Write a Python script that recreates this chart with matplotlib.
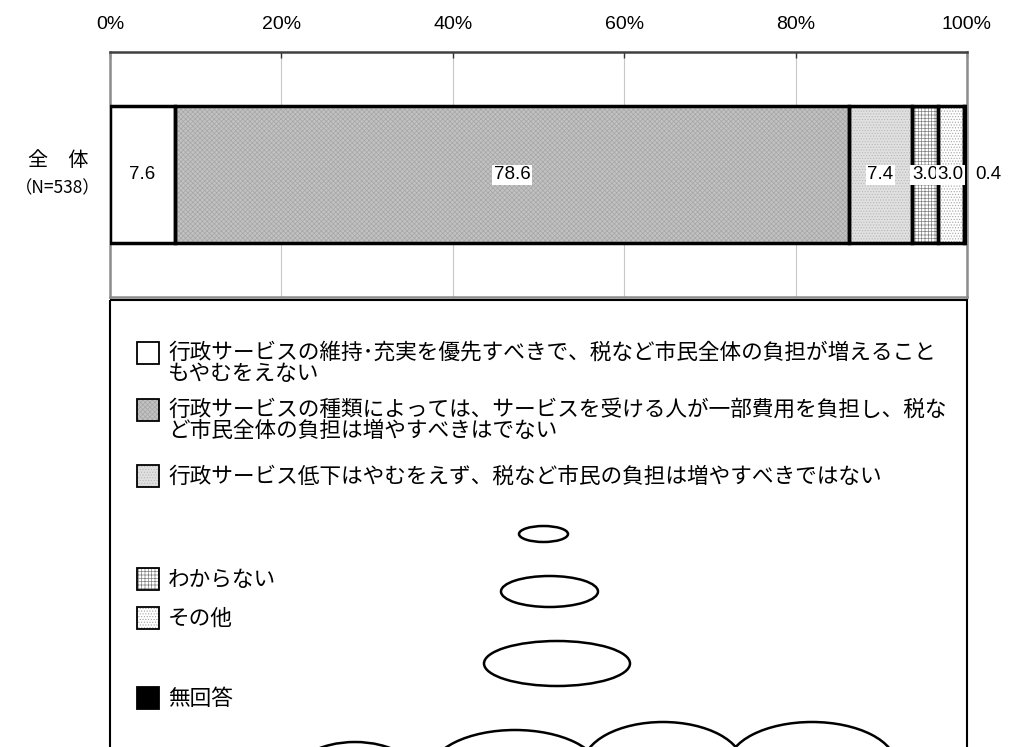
import matplotlib
matplotlib.use("Agg")
import matplotlib.pyplot as plt
from matplotlib.patches import Rectangle, Ellipse

plt.rcParams['font.family'] = ['Noto Sans CJK JP', 'DejaVu Sans']
plt.rcParams['hatch.linewidth'] = 0.5

# ---- data ----
categories = ["全\u3000体", "（N=538）"]
values = [7.6, 78.6, 7.4, 3.0, 3.0, 0.4]
value_labels = ["7.6", "78.6", "7.4", "3.0", "3.0", "0.4"]
legend_labels = [
    "行政サービスの維持\uff65充実を優先すべきで、税など市民全体の負担が増えること\nもやむをえない",
    "行政サービスの種類によっては、サービスを受ける人が一部費用を負担し、税な\nど市民全体の負担は増やすべきはでない",
    "行政サービス低下はやむをえず、税など市民の負担は増やすべきではない",
    "わからない",
    "その他",
    "無回答",
]
tick_values = [0, 20, 40, 60, 80, 100]
tick_labels = ["0%", "20%", "40%", "60%", "80%", "100%"]

# styles: (face, hatch, hatchcolor)
styles = [
    ("white", None, "white"),
    ("#c2c2c2", "xxxxxxx", "#a6a6a6"),
    ("#e0e0e0", "......", "#b8b8b8"),
    ("white", "+++++", "#808080"),
    ("white", "......", "#a4a4a4"),
    ("black", None, "black"),
]

W, H = 1009, 747
fig = plt.figure(figsize=(W / 100, H / 100), dpi=100)

ax = fig.add_axes([110 / W, 1 - 297 / H, 857 / W, 245 / H])
ax.set_xlim(0, 100)
ax.set_ylim(-0.5, 0.5)

num_font = ["Liberation Sans", "DejaVu Sans"]

left = 0
for v, (fc, hatch, hc) in zip(values, styles):
    ax.barh(0, v, left=left, height=0.56, color=fc, hatch=hatch,
            edgecolor=hc, linewidth=0, zorder=2)
    ax.barh(0, v, left=left, height=0.56, fill=False, edgecolor="black",
            linewidth=2.5, zorder=3)
    left += v

left = 0
for i, (v, lab) in enumerate(zip(values, value_labels)):
    c = left + v / 2
    if i == len(values) - 1:
        ax.text(101.0, 0.0, lab, ha="left", va="center", fontsize=13.5,
                family=num_font, zorder=5, clip_on=False)
    else:
        ax.text(c, 0.0, lab, ha="center", va="center", fontsize=13.5,
                family=num_font, zorder=5,
                bbox=dict(boxstyle="square,pad=0.08", fc="white", ec="none"))
    left += v

ax.set_xticks(tick_values)
ax.set_xticklabels(tick_labels, family=["Liberation Sans Narrow", "Liberation Sans", "DejaVu Sans"],
                   fontsize=14)
ax.xaxis.tick_top()
ax.tick_params(axis="x", direction="in", length=4, width=1, color="#333333", pad=14)
ax.set_yticks([])
ax.grid(axis="x", color="#c8c8c8", linewidth=0.8, zorder=0)
ax.set_axisbelow(True)
for s in ax.spines.values():
    s.set_color("#8c8c8c")
    s.set_linewidth(1.8)
ax.spines["top"].set_color("#404040")

fig.text(58 / W, 1 - 161 / H, categories[0], ha="center", va="center", fontsize=14.5)
fig.text(58 / W, 1 - 188 / H, categories[1], ha="center", va="center", fontsize=12.5)

# ---- overlay in pixel coordinates ----
ov = fig.add_axes([0, 0, 1, 1], facecolor="none")
ov.set_xlim(0, W)
ov.set_ylim(H, 0)
ov.axis("off")

ov.add_patch(Rectangle((110, 300), 857, 470, fill=False, edgecolor="black",
                       linewidth=1.5, clip_on=True))

patch_y = [353, 410, 476, 579, 618, 698]
for (fc, hatch, hc), lab, py in zip(styles, legend_labels, patch_y):
    ov.add_patch(Rectangle((137, py - 11), 22, 22, facecolor=fc, hatch=hatch,
                           edgecolor=hc, linewidth=0))
    ov.add_patch(Rectangle((137, py - 11), 22, 22, fill=False, edgecolor="black",
                           linewidth=1.3))
    if "\n" in lab:
        ov.text(168, py - 11, lab, ha="left", va="top", fontsize=15.6,
                linespacing=0.92)
    else:
        ov.text(168, py + 1, lab, ha="left", va="center", fontsize=15.6)

ellipses = [
    (543.5, 534, 49, 16),
    (549.5, 591.5, 97, 31),
    (557, 663.5, 146, 45),
    (355, 780, 130, 76),
    (515, 772, 170, 84),
    (663, 765, 160, 86),
    (812, 765, 168, 86),
]
for cx, cy, ew, eh in ellipses:
    ov.add_patch(Ellipse((cx, cy), ew, eh, fill=False, edgecolor="black", linewidth=1.8))

fig.savefig("out.png", dpi=100)
